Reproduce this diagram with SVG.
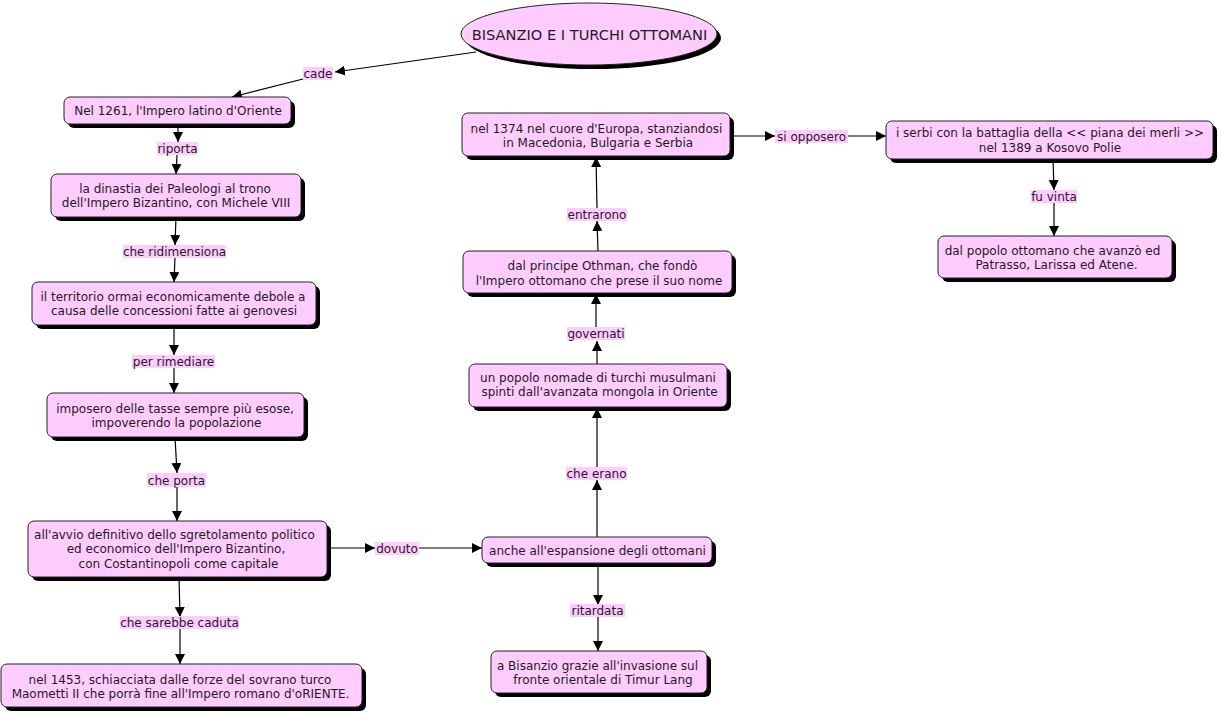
<svg xmlns="http://www.w3.org/2000/svg" width="1221" height="714" viewBox="0 0 1221 714">
<defs>
<marker id="arr" markerUnits="userSpaceOnUse" markerWidth="11" markerHeight="11" refX="10" refY="5" orient="auto">
<path d="M0,0 L10,5 L0,10 z" fill="#000"/>
</marker>
</defs>
<style>
text{font-family:"DejaVu Sans","Verdana",sans-serif;font-size:12px;fill:#1e1a22;text-anchor:middle}
.title{font-size:14.6px}
.box{fill:#ffccff;stroke:#222;stroke-width:1}
.sh{fill:#000}
.lbl{fill:#ffccff}
.c line{stroke:#000;stroke-width:1.2;marker-end:url(#arr)}
</style>
<rect width="1221" height="714" fill="#fff"/>
<g id="connectors" class="c">
<line x1="476" y1="52" x2="335" y2="72"/>
<line x1="303" y1="79" x2="232" y2="97"/>
<line x1="178" y1="124" x2="178" y2="142"/>
<line x1="177" y1="155" x2="176" y2="174"/>
<line x1="176" y1="217" x2="175" y2="245"/>
<line x1="175" y1="257" x2="174" y2="282"/>
<line x1="174" y1="325" x2="174" y2="355"/>
<line x1="174" y1="368" x2="174" y2="393"/>
<line x1="175" y1="437" x2="177" y2="473"/>
<line x1="177" y1="487" x2="177" y2="521"/>
<line x1="179" y1="577" x2="180" y2="617"/>
<line x1="180" y1="628" x2="180" y2="664"/>
<line x1="327" y1="548" x2="375" y2="548"/>
<line x1="419" y1="548" x2="482" y2="548"/>
<line x1="598" y1="563" x2="598" y2="605"/>
<line x1="598" y1="615" x2="598" y2="651"/>
<line x1="597" y1="537" x2="597" y2="480"/>
<line x1="597" y1="468" x2="597" y2="408"/>
<line x1="597" y1="364" x2="597" y2="341"/>
<line x1="596" y1="327" x2="596" y2="294"/>
<line x1="598" y1="251" x2="597" y2="221"/>
<line x1="597" y1="208" x2="596" y2="157"/>
<line x1="730" y1="136" x2="775" y2="136"/>
<line x1="848" y1="136" x2="886" y2="136"/>
<line x1="1053" y1="159" x2="1054" y2="190"/>
<line x1="1054" y1="202" x2="1054" y2="236"/>
</g>
<g id="labels">
<g id="l-cade"><rect class="lbl" x="303" y="67" width="30" height="13"/><text x="318" y="78">cade</text></g>
<g id="l-riporta"><rect class="lbl" x="157" y="142" width="41" height="13"/><text x="177.5" y="153">riporta</text></g>
<g id="l-ridimensiona"><rect class="lbl" x="123" y="245" width="103" height="13"/><text x="174.5" y="255.5">che ridimensiona</text></g>
<g id="l-rimediare"><rect class="lbl" x="132" y="355" width="83" height="13"/><text x="173.5" y="366">per rimediare</text></g>
<g id="l-porta"><rect class="lbl" x="147" y="473" width="59" height="14"/><text x="176.5" y="484.5">che porta</text></g>
<g id="l-caduta"><rect class="lbl" x="120" y="616" width="119" height="13"/><text x="179.5" y="626.5">che sarebbe caduta</text></g>
<g id="l-dovuto"><rect class="lbl" x="375" y="542" width="44" height="13"/><text x="397" y="552.5">dovuto</text></g>
<g id="l-ritardata"><rect class="lbl" x="570" y="604" width="55" height="13"/><text x="597.5" y="614.5">ritardata</text></g>
<g id="l-erano"><rect class="lbl" x="566" y="467" width="61" height="13"/><text x="596.5" y="478">che erano</text></g>
<g id="l-governati"><rect class="lbl" x="567" y="327" width="58" height="13"/><text x="596" y="338">governati</text></g>
<g id="l-entrarono"><rect class="lbl" x="567" y="208" width="60" height="13"/><text x="597" y="218.5">entrarono</text></g>
<g id="l-opposero"><rect class="lbl" x="775" y="130" width="73" height="13"/><text x="811.5" y="140.5">si opposero</text></g>
<g id="l-vinta"><rect class="lbl" x="1031" y="190" width="46" height="13"/><text x="1054" y="200.5">fu vinta</text></g>
</g>
<g id="n0">
<ellipse class="sh" cx="593" cy="38" rx="128" ry="31"/>
<ellipse class="box" cx="589" cy="34" rx="128" ry="31"/>
<text class="title" x="589.5" y="40">BISANZIO E I TURCHI OTTOMANI</text>
</g>
<g id="n1">
<rect class="sh" x="68" y="101" width="227" height="27" rx="6"/>
<rect class="box" x="64" y="97" width="227" height="27" rx="6"/>
<text x="178" y="115">Nel 1261, l'Impero latino d'Oriente</text>
</g>
<g id="n2">
<rect class="sh" x="55" y="178" width="250" height="43" rx="6"/>
<rect class="box" x="51" y="174" width="250" height="43" rx="6"/>
<text x="175" y="192.5">la dinastia dei Paleologi al trono</text>
<text x="176" y="207">dell'Impero Bizantino, con Michele VIII</text>
</g>
<g id="n3">
<rect class="sh" x="36" y="286" width="284" height="43" rx="6"/>
<rect class="box" x="32" y="282" width="284" height="43" rx="6"/>
<text x="173" y="300.5">il territorio ormai economicamente debole a</text>
<text x="174" y="315">causa delle concessioni fatte ai genovesi</text>
</g>
<g id="n4">
<rect class="sh" x="51" y="397" width="257" height="44" rx="6"/>
<rect class="box" x="47" y="393" width="257" height="44" rx="6"/>
<text x="175" y="412.5">imposero delle tasse sempre più esose,</text>
<text x="176.5" y="427">impoverendo la popolazione</text>
</g>
<g id="n5">
<rect class="sh" x="32" y="525" width="299" height="56" rx="6"/>
<rect class="box" x="28" y="521" width="299" height="56" rx="6"/>
<text x="174.5" y="538.5">all'avvio definitivo dello sgretolamento politico</text>
<text x="176" y="553">ed economico dell'Impero Bizantino,</text>
<text x="178.5" y="567.5">con Costantinopoli come capitale</text>
</g>
<g id="n6">
<rect class="sh" x="5" y="668" width="361" height="43" rx="6"/>
<rect class="box" x="1" y="664" width="361" height="43" rx="6"/>
<text x="180" y="683.5">nel 1453, schiacciata dalle forze del sovrano turco</text>
<text x="180.5" y="697.5">Maometti II che porrà fine all'Impero romano d'oRIENTE.</text>
</g>
<g id="n7">
<rect class="sh" x="486" y="541" width="230" height="26" rx="6"/>
<rect class="box" x="482" y="537" width="230" height="26" rx="6"/>
<text x="597.5" y="554.5">anche all'espansione degli ottomani</text>
</g>
<g id="n8">
<rect class="sh" x="495" y="655" width="216" height="42" rx="6"/>
<rect class="box" x="491" y="651" width="216" height="42" rx="6"/>
<text x="597.5" y="669.5">a Bisanzio grazie all'invasione sul</text>
<text x="603" y="683.5">fronte orientale di Timur Lang</text>
</g>
<g id="n9">
<rect class="sh" x="473" y="368" width="258" height="43" rx="6"/>
<rect class="box" x="469" y="364" width="258" height="43" rx="6"/>
<text x="598" y="381.5">un popolo nomade di turchi musulmani</text>
<text x="599.5" y="396">spinti dall'avanzata mongola in Oriente</text>
</g>
<g id="n10">
<rect class="sh" x="467" y="255" width="269" height="42" rx="6"/>
<rect class="box" x="463" y="251" width="269" height="42" rx="6"/>
<text x="602.5" y="269.5">dal principe Othman, che fondò</text>
<text x="599" y="284.5">l'Impero ottomano che prese il suo nome</text>
</g>
<g id="n11">
<rect class="sh" x="466" y="117" width="268" height="43" rx="6"/>
<rect class="box" x="462" y="113" width="268" height="43" rx="6"/>
<text x="596.5" y="132.5">nel 1374 nel cuore d'Europa, stanziandosi</text>
<text x="598" y="146.5">in Macedonia, Bulgaria e Serbia</text>
</g>
<g id="n12">
<rect class="sh" x="890" y="125" width="327" height="38" rx="6"/>
<rect class="box" x="886" y="121" width="327" height="38" rx="6"/>
<text x="1050" y="137">i serbi con la battaglia della &lt;&lt; piana dei merli &gt;&gt;</text>
<text x="1050" y="151.5">nel 1389 a Kosovo Polie</text>
</g>
<g id="n13">
<rect class="sh" x="942" y="240" width="234" height="42" rx="6"/>
<rect class="box" x="938" y="236" width="234" height="42" rx="6"/>
<text x="1052.5" y="254.5">dal popolo ottomano che avanzò ed</text>
<text x="1056.5" y="268.5">Patrasso, Larissa ed Atene.</text>
</g>
</svg>
